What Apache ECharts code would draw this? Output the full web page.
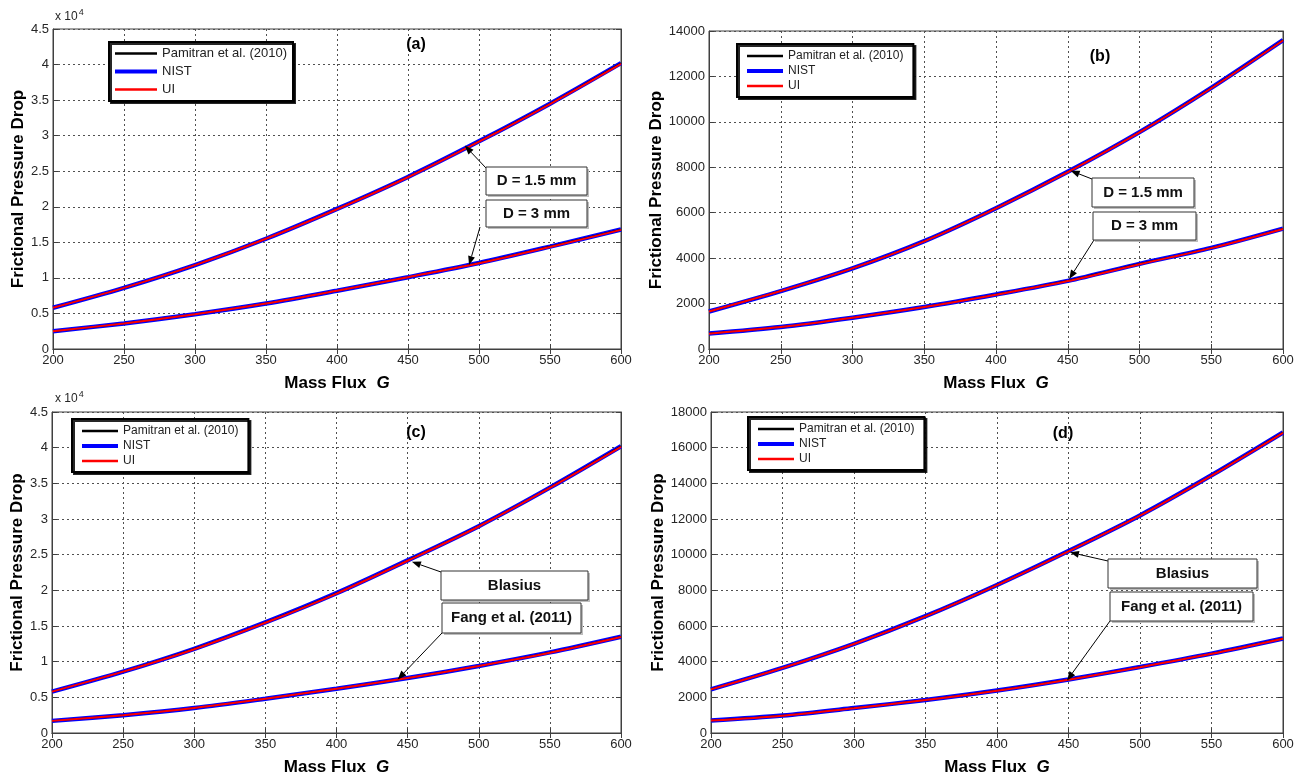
<!DOCTYPE html>
<html><head><meta charset="utf-8">
<script src="https://cdn.jsdelivr.net/npm/echarts@6/dist/echarts.min.js"></script>
<style>html,body{margin:0;padding:0;background:#fff}#c{width:1304px;height:778px}</style>
</head><body><div id="c"></div>
<script>
const massFlux = [200, 250, 300, 350, 400, 450, 500, 550, 600];
const xTicks = { min: 200, max: 600, interval: 50 };

// Panel (a): values in units of 1e4
const a_D15_pamitran = [0.58, 0.86, 1.18, 1.55, 1.97, 2.42, 2.92, 3.45, 4.02];
const a_D15_nist     = [0.58, 0.86, 1.18, 1.55, 1.97, 2.42, 2.92, 3.45, 4.02];
const a_D15_ui       = [0.58, 0.86, 1.18, 1.55, 1.965, 2.415, 2.915, 3.445, 4.01];
const a_D3_pamitran  = [0.25, 0.36, 0.49, 0.64, 0.82, 1.01, 1.21, 1.44, 1.68];
const a_D3_nist      = [0.25, 0.36, 0.49, 0.64, 0.82, 1.01, 1.21, 1.44, 1.68];
const a_D3_ui        = [0.25, 0.36, 0.49, 0.64, 0.82, 1.01, 1.205, 1.435, 1.675];
// Panel (b)
const b_D15_pamitran = [1650, 2550, 3550, 4750, 6200, 7800, 9550, 11500, 13600];
const b_D15_nist     = [1650, 2550, 3550, 4750, 6200, 7800, 9550, 11500, 13600];
const b_D15_ui       = [1650, 2550, 3550, 4740, 6190, 7790, 9540, 11480, 13580];
const b_D3_pamitran  = [680, 970, 1380, 1850, 2400, 3000, 3750, 4450, 5300];
const b_D3_nist      = [680, 970, 1380, 1850, 2400, 3000, 3750, 4450, 5300];
const b_D3_ui        = [675, 965, 1375, 1845, 2390, 2990, 3735, 4440, 5285];
// Panel (c): values in units of 1e4
const c_blasius_pamitran = [0.58, 0.86, 1.18, 1.55, 1.96, 2.42, 2.90, 3.44, 4.02];
const c_blasius_nist     = [0.58, 0.86, 1.18, 1.55, 1.96, 2.42, 2.90, 3.44, 4.02];
const c_blasius_ui       = [0.58, 0.86, 1.175, 1.545, 1.955, 2.415, 2.895, 3.435, 4.01];
const c_fang_pamitran    = [0.17, 0.25, 0.35, 0.48, 0.62, 0.77, 0.94, 1.13, 1.35];
const c_fang_nist        = [0.17, 0.25, 0.35, 0.48, 0.62, 0.77, 0.94, 1.13, 1.35];
const c_fang_ui          = [0.17, 0.25, 0.35, 0.48, 0.62, 0.77, 0.94, 1.125, 1.345];
// Panel (d)
const d_blasius_pamitran = [2450, 3650, 5000, 6550, 8300, 10200, 12200, 14450, 16850];
const d_blasius_nist     = [2450, 3650, 5000, 6550, 8300, 10200, 12200, 14450, 16850];
const d_blasius_ui       = [2445, 3645, 4990, 6540, 8290, 10185, 12185, 14435, 16835];
const d_fang_pamitran    = [700, 980, 1400, 1850, 2380, 3000, 3700, 4450, 5300];
const d_fang_nist        = [700, 980, 1400, 1850, 2380, 3000, 3700, 4450, 5300];
const d_fang_ui          = [695, 970, 1390, 1845, 2370, 2990, 3690, 4440, 5290];

const yScales = [
  { min: 0, max: 4.5, interval: 0.5 },
  { min: 0, max: 14000, interval: 2000 },
  { min: 0, max: 4.5, interval: 0.5 },
  { min: 0, max: 18000, interval: 2000 }
];
const seriesNames = ['Pamitran et al. (2010)', 'NIST', 'UI'];
const panels = [
  [[a_D15_pamitran, a_D15_nist, a_D15_ui], [a_D3_pamitran, a_D3_nist, a_D3_ui]],
  [[b_D15_pamitran, b_D15_nist, b_D15_ui], [b_D3_pamitran, b_D3_nist, b_D3_ui]],
  [[c_blasius_pamitran, c_blasius_nist, c_blasius_ui], [c_fang_pamitran, c_fang_nist, c_fang_ui]],
  [[d_blasius_pamitran, d_blasius_nist, d_blasius_ui], [d_fang_pamitran, d_fang_nist, d_fang_ui]]
];
const panelLabels = ['(a)', '(b)', '(c)', '(d)'];
const curveLabels = [['D = 1.5 mm', 'D = 3 mm'], ['D = 1.5 mm', 'D = 3 mm'], ['Blasius', 'Fang et al. (2011)'], ['Blasius', 'Fang et al. (2011)']];
// arrow tips in data coordinates [G, value]
const arrowTips = [
  [[490, 2.86], [493, 1.18]],
  [[452, 7850], [451, 3080]],
  [[453, 2.40], [443, 0.75]],
  [[451, 10130], [449, 2950]]
];

const FONT = 'Liberation Sans, Arial, sans-serif';
const grids = [
  { left: 53, top: 29, width: 568, height: 320 },
  { left: 709, top: 31, width: 574, height: 318 },
  { left: 52, top: 412, width: 569, height: 321 },
  { left: 711, top: 412, width: 572, height: 321 }
];
const yNameGap = [24, 41, 25, 40];
const legendCfg = [
  { left: 109, top: 42, fontSize: 13, itemWidth: 42, itemGap: 5, padding: [5, 6, 5, 4] },
  { left: 737, top: 44, fontSize: 12, itemWidth: 36, itemGap: 3, padding: [6, 10, 5, 8] },
  { left: 72, top: 419, fontSize: 12, itemWidth: 36, itemGap: 3, padding: [6, 10, 5, 8] },
  { left: 748, top: 417, fontSize: 12, itemWidth: 36, itemGap: 3, padding: [6, 10, 5, 8] }
];

const chart = echarts.init(document.getElementById('c'), null, { renderer: 'canvas' });

function axisBase() {
  return {
    axisLine: { lineStyle: { color: '#404040', width: 1 } },
    axisTick: { inside: true, length: 5, lineStyle: { color: '#404040' } },
    splitLine: { show: true, lineStyle: { color: '#505050', width: 1, type: [2, 3] } }
  };
}
function mirrorAxis(i, pos, scale) {
  return {
    type: 'value', gridIndex: i, position: pos, min: scale.min, max: scale.max, interval: scale.interval,
    axisLine: { show: true, lineStyle: { color: '#404040', width: 1 } },
    axisTick: { show: true, inside: true, length: 5, lineStyle: { color: '#404040' } },
    axisLabel: { show: false }, splitLine: { show: false }
  };
}

const option = {
  animation: false,
  backgroundColor: '#fff',
  grid: grids.map(g => Object.assign({ show: true, borderColor: '#404040', borderWidth: 1, backgroundColor: 'transparent' }, g)),
  xAxis: grids.map((g, i) => Object.assign(axisBase(), {
    type: 'value', gridIndex: i, min: xTicks.min, max: xTicks.max, interval: xTicks.interval,
    axisLabel: { color: '#262626', fontSize: 13, fontFamily: FONT, margin: 5, formatter: v => String(v) },
    name: '{a|Mass Flux}   {b|G}', nameLocation: 'middle', nameGap: 26,
    nameTextStyle: { rich: {
      a: { fontSize: 17, fontWeight: 'bold', fontFamily: FONT, color: '#000' },
      b: { fontSize: 17, fontWeight: 'bold', fontStyle: 'italic', fontFamily: FONT, color: '#000' }
    } }
  })).concat(grids.map((g, i) => mirrorAxis(i, 'top', xTicks))),
  yAxis: grids.map((g, i) => Object.assign(axisBase(), {
    type: 'value', gridIndex: i, min: yScales[i].min, max: yScales[i].max, interval: yScales[i].interval,
    axisLabel: { color: '#262626', fontSize: 13, fontFamily: FONT, margin: 4, formatter: v => String(v) },
    name: 'Frictional Pressure Drop', nameLocation: 'middle', nameGap: yNameGap[i], nameRotate: 90,
    nameTextStyle: { fontSize: 17, fontWeight: 'bold', fontFamily: FONT, color: '#000' }
  })).concat(grids.map((g, i) => mirrorAxis(i, 'right', yScales[i]))),
  legend: legendCfg.map(p => ({
    left: p.left, top: p.top, orient: 'vertical',
    data: [
      { name: seriesNames[0], lineStyle: { width: 2.5 } },
      { name: seriesNames[1], lineStyle: { width: 4 } },
      { name: seriesNames[2], lineStyle: { width: 2.5 } }
    ],
    itemWidth: p.itemWidth, itemHeight: 10, itemGap: p.itemGap, padding: p.padding,
    itemStyle: { opacity: 0, borderWidth: 0 },
    backgroundColor: '#fff', borderColor: '#000', borderWidth: 2,
    shadowColor: 'rgba(0,0,0,0.85)', shadowOffsetX: 2, shadowOffsetY: 2, shadowBlur: 0,
    textStyle: { fontSize: p.fontSize, fontFamily: FONT, color: '#222' },
    selectedMode: false
  })),
  series: []
};

const styles = [
  { color: '#000000', width: 1.5 },
  { color: '#0000ff', width: 4.5 },
  { color: '#ff0000', width: 2 }
];
const drawOrder = [1, 0, 2];
panels.forEach((curves, pi) => {
  curves.forEach(curve => {
    drawOrder.forEach((k, z) => {
      option.series.push({
        type: 'line', name: seriesNames[k], xAxisIndex: pi, yAxisIndex: pi,
        data: massFlux.map((g, j) => [g, curve[k][j]]),
        smooth: 0.3, symbol: 'none', showSymbol: false, z: 3 + z,
        lineStyle: { color: styles[k].color, width: styles[k].width },
        itemStyle: { color: styles[k].color }
      });
    });
  });
});
chart.setOption(option);

// annotations
const boxes = [
  [{ x: 486, y: 167, w: 101, h: 28, tail: [486, 168] }, { x: 486, y: 200, w: 101, h: 27, tail: [480, 227] }],
  [{ x: 1092, y: 178, w: 102, h: 29, tail: [1092, 179] }, { x: 1093, y: 212, w: 103, h: 28, tail: [1094, 240] }],
  [{ x: 441, y: 571, w: 147, h: 29, tail: [441, 572] }, { x: 442, y: 603, w: 139, h: 30, tail: [442, 633] }],
  [{ x: 1108, y: 559, w: 149, h: 29, tail: [1108, 561] }, { x: 1110, y: 592, w: 143, h: 29, tail: [1110, 621] }]
];
const panelLabelPos = [[416, 45], [1100, 57], [416, 433], [1063, 434]];
const graphic = [];
function arrow(tail, tip) {
  const dx = tip[0] - tail[0], dy = tip[1] - tail[1];
  const L = Math.sqrt(dx * dx + dy * dy), ux = dx / L, uy = dy / L;
  const hl = 9, hw = 3.5;
  const bx = tip[0] - ux * hl, by = tip[1] - uy * hl;
  graphic.push({ type: 'line', shape: { x1: tail[0], y1: tail[1], x2: bx, y2: by }, style: { stroke: '#000', lineWidth: 1 }, z: 20 });
  graphic.push({ type: 'polygon', shape: { points: [[tip[0], tip[1]], [bx - uy * hw, by + ux * hw], [bx + uy * hw, by - ux * hw]] }, style: { fill: '#000' }, z: 20 });
}
boxes.forEach((pb, pi) => {
  pb.forEach((b, ci) => {
    const tip = chart.convertToPixel({ gridIndex: pi }, arrowTips[pi][ci]);
    arrow(b.tail, tip);
    graphic.push({ type: 'rect', shape: { x: b.x + 2, y: b.y + 2, width: b.w, height: b.h }, style: { fill: '#bdbdbd' }, z: 21 });
    graphic.push({ type: 'rect', shape: { x: b.x, y: b.y, width: b.w, height: b.h }, style: { fill: '#fff', stroke: '#333', lineWidth: 1 }, z: 22 });
    graphic.push({ type: 'text', x: b.x + b.w / 2, y: b.y + b.h / 2, style: { text: curveLabels[pi][ci], fill: '#111', font: 'bold 15px ' + FONT, align: 'center', verticalAlign: 'middle' }, z: 23 });
  });
  const pl = panelLabelPos[pi];
  graphic.push({ type: 'text', x: pl[0], y: pl[1], style: { text: panelLabels[pi], fill: '#000', font: 'bold 16px ' + FONT, align: 'center', verticalAlign: 'middle' }, z: 23 });
});
// x 10^4 exponent labels for panels (a) and (c)
[[55, 17], [55, 399]].forEach(p => {
  graphic.push({ type: 'text', x: p[0], y: p[1], style: {
    text: '{a|x 10}{b|4}', verticalAlign: 'middle',
    rich: { a: { font: '12px ' + FONT, fill: '#262626' }, b: { font: '9px ' + FONT, fill: '#262626', verticalAlign: 'top', padding: [0, 0, 8, 1] } }
  }, z: 23 });
});
chart.setOption({ graphic: graphic });
</script>
</body></html>
